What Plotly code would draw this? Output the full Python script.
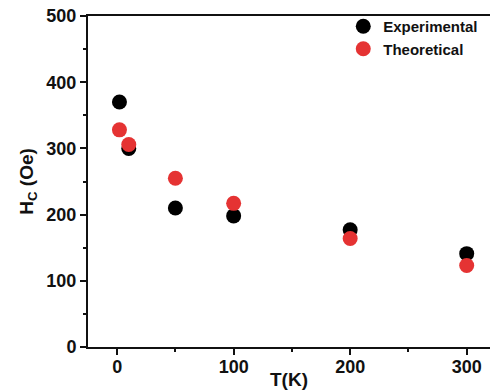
import plotly.graph_objects as go

temps = [2, 10, 50, 100, 200, 300]
hc_experimental = [370, 300, 210, 198, 177, 141]
hc_theoretical = [328, 306, 255, 217, 164, 123]

x_ticks = [0, 100, 200, 300]
y_ticks = [0, 100, 200, 300, 400, 500]

FONT = "Liberation Sans, Arial, sans-serif"

fig = go.Figure()
fig.add_trace(go.Scatter(x=temps, y=hc_experimental, mode="markers", name="<b>Experimental</b>",
                         marker=dict(color="#000000", size=15, line=dict(width=0))))
fig.add_trace(go.Scatter(x=temps, y=hc_theoretical, mode="markers", name="<b>Theoretical</b>",
                         marker=dict(color="#E53333", size=15, line=dict(width=0))))

fig.update_layout(
    width=490, height=390,
    margin=dict(l=88, r=0, t=16, b=43),
    paper_bgcolor="white", plot_bgcolor="white",
    font=dict(family=FONT, color="#111111"),
    showlegend=True,
    legend=dict(x=0.635, y=1.018, xanchor="left", yanchor="top", bgcolor="rgba(0,0,0,0)",
                font=dict(size=15, family=FONT, color="#111111"), tracegroupgap=0,
                itemsizing="trace"),
    xaxis=dict(range=[-25, 320], tickvals=x_ticks, ticktext=[f"<b>{v}</b>" for v in x_ticks],
               automargin=False, ticklabelstandoff=-4,
               showgrid=False, zeroline=False, showline=True, linecolor="#111111", linewidth=2,
               mirror=True, ticks="outside", ticklen=6, tickwidth=2, tickcolor="#111111",
               tickfont=dict(size=18, family=FONT),
               minor=dict(tickvals=[50, 150, 250], ticks="outside", ticklen=3, tickwidth=2, tickcolor="#111111"),
               title=dict(text="<b>T(K)</b>", font=dict(size=19, family=FONT), standoff=2)),
    yaxis=dict(range=[0, 500], tickvals=y_ticks, ticktext=[f"<b>{v}</b>" for v in y_ticks],
               automargin=False,
               showgrid=False, zeroline=False, showline=True, linecolor="#111111", linewidth=2,
               ticks="outside", ticklen=6, tickwidth=2, tickcolor="#111111",
               tickfont=dict(size=18, family=FONT),
               minor=dict(tickvals=[50, 150, 250, 350, 450], ticks="outside", ticklen=3, tickwidth=2, tickcolor="#111111"),
               title=dict(text="<b>H<sub>C</sub> (Oe)</b>", font=dict(size=19, family=FONT), standoff=8)),
)

fig.write_html("out.html")
